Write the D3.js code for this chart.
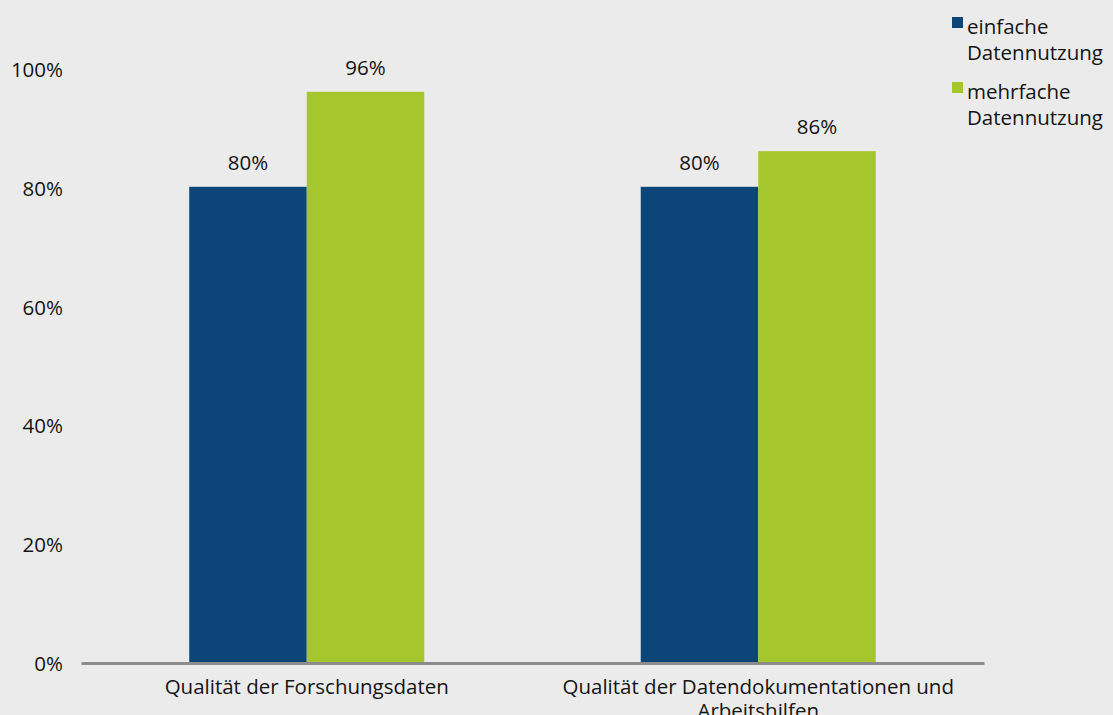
<!DOCTYPE html>
<html><head><meta charset="utf-8">
<script src="https://cdn.jsdelivr.net/npm/d3@7"></script>
<style>
body{margin:0;background:#ebebeb;}
svg{display:block;font-family:"Open Sans",sans-serif;}
</style></head><body>
<svg id="chart" width="1113" height="715"></svg>
<script>
const categories = [["Qualität der Forschungsdaten"], ["Qualität der Datendokumentationen und", "Arbeitshilfen"]];
const seriesNames = ["einfache Datennutzung", "mehrfache Datennutzung"];
const legendLines = [["einfache", "Datennutzung"], ["mehrfache", "Datennutzung"]];
const einfache = [80, 80];
const mehrfache = [96, 86];
const yTicks = [0, 20, 40, 60, 80, 100];
const colors = ["#0c4679", "#a5c72d"];

const FS = 20.5;
const svg = d3.select("#chart");
svg.append("rect").attr("width",1113).attr("height",715).attr("fill","#ebebeb");
const catKeys = categories.map((c,i)=>i);
const x0 = d3.scaleBand().domain(catKeys).range([81, 984]).padding(0);
const x1 = d3.scaleBand().domain([0,1]).range([0, x0.bandwidth()]).paddingInner(0).paddingOuter(0.921);
const y = d3.scaleLinear().domain([0, 100]).range([662, 68]);
const values = [einfache, mehrfache];

// y axis labels
const yAxis = d3.axisLeft(y).tickValues(yTicks).tickFormat(d=>d+"%").tickSize(0).tickPadding(0);
const ga = svg.append("g").attr("transform","translate(63,2)").call(yAxis);
ga.select(".domain").remove();
ga.selectAll("text").attr("font-size",FS).attr("fill","#141414").attr("font-family","'Open Sans',sans-serif");

// bars
catKeys.forEach(ci=>{
  values.forEach((vals,si)=>{
    const v = vals[ci];
    const bx = x0(ci)+x1(si);
    svg.append("rect").attr("x",bx).attr("y",y(v)).attr("width",x1.bandwidth()).attr("height",y(0)-y(v)).attr("fill",colors[si]);
    svg.append("text").attr("x",bx+x1.bandwidth()/2).attr("y",y(v)-17).attr("text-anchor","middle")
      .attr("font-size",FS).attr("fill","#141414").text(v+"%");
  });
});

// x axis
const xAxis = d3.axisBottom(x0).tickSize(0).tickFormat("");
const gx = svg.append("g").attr("transform","translate(0,663)").call(xAxis);
gx.select(".domain").attr("stroke","#8c8c8c").attr("stroke-width",3);
catKeys.forEach(ci=>{
  const t = svg.append("text").attr("text-anchor","middle").attr("font-size",FS).attr("fill","#141414");
  categories[ci].forEach((line,li)=>{
    t.append("tspan").attr("x",x0(ci)+x0.bandwidth()/2).attr("y",694+li*24).text(line);
  });
});

// legend
legendLines.forEach((lines,i)=>{
  const ly = 17 + i*65;
  svg.append("rect").attr("x",952).attr("y",ly).attr("width",11).attr("height",11).attr("fill",colors[i]);
  const t = svg.append("text").attr("font-size",FS).attr("fill","#141414");
  lines.forEach((line,li)=>{
    t.append("tspan").attr("x",967).attr("y",ly+17+li*26).text(line);
  });
});
</script>
</body></html>
